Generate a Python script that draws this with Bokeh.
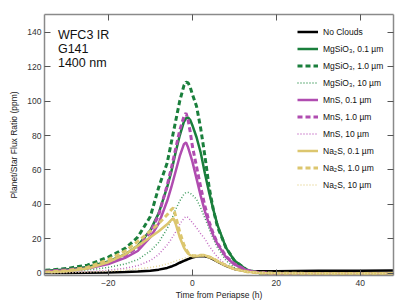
from bokeh.plotting import figure
from bokeh.models import (Range1d, LinearAxis, FixedTicker, Legend, LegendItem, Label)
from bokeh.embed import file_html
from bokeh.resources import INLINE

# ---------------- data ----------------
time_h = [-35, -30, -25, -20, -16, -13, -10, -8, -6, -5, -4.5, -4, -3, -2, -1.5, -1, -0.5, 0,
          1, 2, 3, 4, 5, 6, 8, 10, 13, 16, 20, 30, 40, 48]

no_clouds = [0.2, 0.3, 0.4, 0.6, 0.8, 1.1, 1.6, 2.2, 3.2, 4.0, 4.5, 5.0, 6.2, 7.3, 7.8, 8.3, 8.8, 9.2,
             9.8, 10.1, 10.0, 9.3, 8.2, 6.9, 4.4, 2.6, 1.4, 1.2, 1.3, 1.5, 1.6, 1.7]

mgsio3_01 = [1.5, 2.3, 3.8, 7.0, 11.0, 16.0, 25.0, 35.0, 50.0, 59.0, 64.5, 70.0, 80.0, 88.0, 90.0, 90.5, 89.0, 86.0,
             79.0, 70.0, 58.0, 47.0, 37.0, 28.0, 15.0, 7.5, 2.0, 0.3, 0.0, 0.0, 0.0, 0.0]

mgsio3_1 = [1.8, 2.8, 4.8, 9.5, 14.5, 21.0, 33.0, 50.0, 64.0, 76.0, 82.0, 88.0, 100.0, 109.0, 111.0, 110.5, 108.0, 104.0,
            97.0, 84.0, 68.0, 50.0, 37.0, 27.0, 15.0, 7.5, 2.0, 0.3, 0.0, 0.0, 0.0, 0.0]

mgsio3_10 = [0.8, 1.2, 2.0, 3.5, 5.5, 8.0, 13.0, 18.0, 26.0, 31.0, 34.0, 37.0, 42.0, 46.0, 47.0, 47.0, 46.5, 45.5,
             43.0, 38.0, 32.0, 26.0, 20.0, 15.0, 7.5, 3.5, 1.0, 0.2, 0.0, 0.0, 0.0, 0.0]

mns_01 = [1.1, 1.7, 2.9, 5.5, 9.0, 13.0, 21.0, 29.0, 42.0, 50.0, 54.5, 59.0, 68.0, 75.0, 76.0, 73.0, 69.0, 65.0,
          55.0, 45.0, 36.0, 28.5, 22.0, 17.0, 9.5, 5.2, 1.7, 0.4, 0.0, 0.0, 0.0, 0.0]

mns_1 = [1.3, 2.0, 3.4, 6.5, 10.5, 15.0, 24.0, 34.0, 51.0, 61.0, 66.5, 72.0, 83.0, 91.0, 93.0, 89.0, 82.0, 74.0,
         62.0, 50.0, 39.0, 30.0, 23.0, 17.5, 10.0, 5.5, 1.8, 0.4, 0.0, 0.0, 0.0, 0.0]

mns_10 = [0.4, 0.6, 1.0, 1.8, 3.0, 4.5, 7.5, 11.0, 16.5, 20.0, 22.0, 24.0, 28.5, 32.0, 33.0, 32.5, 31.0, 29.5,
          26.5, 23.0, 20.0, 16.0, 12.5, 9.5, 5.0, 2.5, 0.8, 0.2, 0.0, 0.0, 0.0, 0.0]

na2s_01 = [0.5, 1.2, 2.8, 6.5, 11.0, 16.0, 21.0, 24.5, 28.5, 31.0, 32.0, 29.0, 21.0, 15.0, 13.0, 11.5, 10.5, 10.0,
           10.0, 10.5, 10.5, 9.5, 8.5, 7.0, 4.5, 2.5, 1.0, 0.3, 0.1, 0.0, 0.0, 0.0]

na2s_1 = [0.8, 1.6, 3.5, 8.0, 13.0, 18.5, 24.5, 29.0, 34.0, 37.0, 38.0, 33.5, 24.0, 16.5, 14.0, 12.0, 11.0, 10.3,
          10.2, 10.6, 10.6, 9.6, 8.6, 7.1, 4.6, 2.6, 1.0, 0.3, 0.1, 0.0, 0.0, 0.0]

na2s_10 = [0.3, 0.5, 0.8, 1.3, 2.0, 2.6, 3.5, 4.3, 5.5, 6.3, 6.8, 7.2, 8.0, 8.8, 9.1, 9.5, 9.8, 10.0,
           10.4, 10.6, 10.5, 9.8, 8.7, 7.3, 4.7, 2.7, 1.1, 0.4, 0.1, 0.0, 0.0, 0.0]

x_ticks = [-20, 0, 20, 40]
y_ticks = [0, 20, 40, 60, 80, 100, 120, 140]
title_lines = ["WFC3 IR", "G141", "1400 nm"]

GREEN = "#1a7f3c"
GREEN_L = "#3d9a5c"
MAG = "#b04cb0"
MAG_L = "#c46ec4"
YEL = "#dcc66e"
YEL_L = "#e6d89a"
FONT = "Liberation Sans"

series = [
    ("No Clouds", no_clouds, "#000000", "solid", 2.5),
    ("MgSiO\u2083, 0.1 \u00b5m", mgsio3_01, GREEN, "solid", 2.5),
    ("MgSiO\u2083, 1.0 \u00b5m", mgsio3_1, GREEN, "5 3", 3),
    ("MgSiO\u2083, 10 \u00b5m", mgsio3_10, GREEN_L, "1 2", 1.5),
    ("MnS, 0.1 \u00b5m", mns_01, MAG, "solid", 2.5),
    ("MnS, 1.0 \u00b5m", mns_1, MAG, "5 3", 3),
    ("MnS, 10 \u00b5m", mns_10, MAG_L, "1 2", 1.5),
    ("Na\u2082S, 0.1 \u00b5m", na2s_01, YEL, "solid", 2.5),
    ("Na\u2082S, 1.0 \u00b5m", na2s_1, YEL, "5 3", 3),
    ("Na\u2082S, 10 \u00b5m", na2s_10, YEL_L, "1 2", 1.5),
]

p = figure(width=400, height=302, output_backend="svg", toolbar_location=None,
           x_range=Range1d(-35.2, 47.9), y_range=Range1d(-1.2, 150.2),
           min_border_left=44, min_border_right=7, min_border_top=14, min_border_bottom=26)
p.outline_line_color = None
p.xgrid.visible = False
p.ygrid.visible = False

items = []
for name, vals, col, dash, w in series:
    r = p.line(time_h, vals, line_color=col, line_dash=dash, line_width=w)
    items.append(LegendItem(label=name, renderers=[r]))

AX_COL = "#8a8a8a"
TICK_COL = "#555555"

def style_axis(ax, labels=True):
    ax.axis_line_color = AX_COL
    ax.axis_line_width = 1.5
    ax.major_tick_in = 6
    ax.major_tick_out = 0
    ax.minor_tick_in = 3
    ax.minor_tick_out = 0
    ax.major_tick_line_color = TICK_COL
    ax.minor_tick_line_color = TICK_COL
    ax.major_label_text_font = FONT
    ax.axis_label_text_font = FONT
    ax.axis_label_text_font_style = "normal"
    ax.axis_label_text_font_size = "8.5px"
    ax.axis_label_text_color = "#222222"
    if labels:
        ax.major_label_text_font_size = "8.5px"
        ax.major_label_text_color = "#333333"
    else:
        ax.major_label_text_font_size = "1px"
        ax.major_label_text_color = None
        ax.major_label_standoff = 0

xt = FixedTicker(ticks=x_ticks, num_minor_ticks=4)
yt = FixedTicker(ticks=y_ticks, num_minor_ticks=4)

p.xaxis.ticker = xt
p.yaxis.ticker = yt
style_axis(p.xaxis[0])
style_axis(p.yaxis[0])
p.xaxis.axis_label = "Time from Periapse (h)"
p.yaxis.axis_label = "Planet/Star Flux Ratio (ppm)"
p.xaxis.major_label_standoff = 4
p.xaxis.axis_label_standoff = 1
p.yaxis.major_label_standoff = 3
p.yaxis.axis_label_standoff = 5

top_ax = LinearAxis(ticker=FixedTicker(ticks=x_ticks, num_minor_ticks=4))
right_ax = LinearAxis(ticker=FixedTicker(ticks=y_ticks, num_minor_ticks=4))
style_axis(top_ax, labels=False)
style_axis(right_ax, labels=False)
p.add_layout(top_ax, "above")
p.add_layout(right_ax, "right")

legend = Legend(items=items, location=(253, 84), glyph_width=21, glyph_height=13,
                label_height=13, spacing=4, label_standoff=5, padding=0, margin=0,
                border_line_alpha=0, background_fill_alpha=0,
                label_text_font=FONT, label_text_font_size="8.5px", label_text_color="#111111")
p.add_layout(legend)

for i, t in enumerate(title_lines):
    p.add_layout(Label(x=-32.0, y=138.1 - 8.1 * i, text=t, text_font=FONT,
                       text_font_size="12.5px", text_baseline="alphabetic", text_color="#111111"))

open("out.html", "w").write(file_html(p, INLINE))
